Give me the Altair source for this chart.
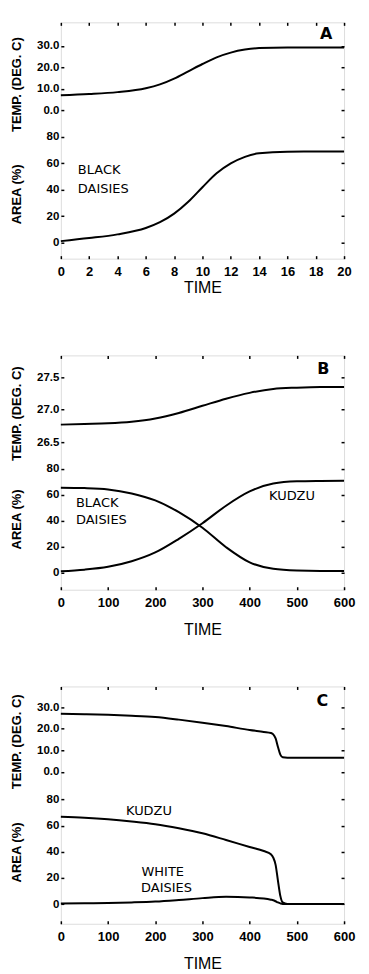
import altair as alt
import pandas as pd

FONT = "DejaVu Sans"

# ---------------- Panel A ----------------
A_time = [0, 2, 4, 6, 7, 8, 9, 10, 11, 12, 13, 14, 16, 18, 20]
A_temp = [7.0, 7.6, 8.5, 10.3, 12.1, 14.8, 18.2, 21.6, 24.7, 26.9, 28.3, 29.0, 29.3, 29.3, 29.3]
A_black = [1.2, 3.5, 6.3, 11.1, 15.5, 22.0, 31.0, 42.0, 52.5, 60.0, 65.0, 67.7, 68.9, 69.0, 69.0]
A_xticks = [0, 2, 4, 6, 8, 10, 12, 14, 16, 18, 20]
A_tticks = [0, 10, 20, 30]
A_labels = [("BLACK", 1.2, 54.7), ("DAISIES", 1.2, 40.9)]
A_letter = ("A", 18.73, 35.6)

# ---------------- Panel B ----------------
B_time = [0, 50, 100, 150, 200, 250, 300, 350, 400, 450, 500, 550, 600]
B_temp = [26.77, 26.78, 26.79, 26.815, 26.865, 26.95, 27.06, 27.17, 27.26, 27.32, 27.34, 27.35, 27.35]
B_black = [65.4, 65.1, 64.1, 61.0, 55.6, 46.5, 34.5, 19.5, 7.8, 2.8, 1.5, 1.2, 1.2]
B_kudzu = [1.0, 2.2, 4.4, 8.7, 15.5, 26.0, 38.0, 51.5, 62.5, 68.6, 70.3, 70.6, 70.7]
B_xticks = [0, 100, 200, 300, 400, 500, 600]
B_tticks = [26.5, 27.0, 27.5]
B_labels = [("BLACK", 32, 53.3), ("DAISIES", 32, 40.8), ("KUDZU", 441, 58.7)]
B_letter = ("B", 556, 27.63)

# ---------------- Panel C ----------------
C_time = [0, 50, 100, 150, 200, 250, 300, 350, 400, 430, 445, 450, 455, 460, 465, 470, 480, 600]
C_temp = [26.9, 26.7, 26.4, 26.0, 25.4, 24.2, 22.8, 21.2, 19.4, 18.5, 18.0, 17.4, 15.5, 11.5, 8.0, 6.8, 6.6, 6.6]
C_kudzu = [66.8, 66.0, 64.8, 63.1, 61.0, 57.9, 54.1, 49.0, 43.7, 40.6, 38.1, 35.6, 30.0, 17.8, 6.3, 1.3, 0.2, 0.2]
C_white = [0.5, 0.6, 0.8, 1.3, 2.0, 3.2, 4.6, 5.6, 5.1, 4.3, 3.4, 3.0, 2.2, 1.3, 0.6, 0.2, 0.2, 0.2]
C_xticks = [0, 100, 200, 300, 400, 500, 600]
C_tticks = [0, 10, 20, 30]
C_labels = [("KUDZU", 138, 71.2), ("WHITE", 171, 24.5), ("DAISIES", 170, 12.4)]
C_letter = ("C", 554, 32.8)

AREA_TICKS = [0, 20, 40, 60, 80]
W = 284


def panel(time, temp, areas, labels, letter, xmax, xticks, tdom, tticks, tfmt,
          adom, H, temp_title_y, area_title_y, title_pad):
    temp_df = pd.DataFrame({"t": time, "v": temp})
    rows = []
    for name, vals in areas.items():
        for t, v in zip(time, vals):
            rows.append({"t": t, "v": v, "s": name})
    area_df = pd.DataFrame(rows)
    lab_df = pd.DataFrame(labels, columns=["text", "t", "v"])
    let_df = pd.DataFrame([letter], columns=["text", "t", "v"])

    xs = alt.Scale(domain=[0, xmax], nice=False, zero=False)
    ts = alt.Scale(domain=tdom, nice=False, zero=False)
    ars = alt.Scale(domain=adom, nice=False, zero=False)

    common = dict(grid=False, domain=False, ticks=True, tickSize=3, tickWidth=1.5,
                  tickColor="black", offset=-3, labelFlush=False, labelOverlap=False)

    temp_line = alt.Chart(temp_df).mark_line(
        color="black", strokeWidth=2, interpolate="monotone"
    ).encode(
        x=alt.X("t:Q", scale=xs, axis=alt.Axis(
            orient="bottom", values=xticks, title="TIME", labelPadding=7,
            labelFontSize=13, labelFontWeight="bold", titleFontSize=16,
            titlePadding=title_pad, titleFontWeight="normal", **common)),
        y=alt.Y("v:Q", scale=ts, axis=alt.Axis(
            orient="left", values=tticks, format=tfmt, title="TEMP. (DEG. C)",
            labelPadding=2, labelFontSize=11.5, labelFontWeight="bold", titleFontSize=13,
            titleAngle=270, titleAlign="center", titleBaseline="middle",
            titleX=-47, titleY=temp_title_y, **common)),
    )

    area_lines = alt.Chart(area_df).mark_line(
        color="black", strokeWidth=2, interpolate="monotone"
    ).encode(
        x=alt.X("t:Q", scale=xs, axis=alt.Axis(
            orient="top", values=xticks, labels=False, title=None, **common)),
        y=alt.Y("v:Q", scale=ars, axis=alt.Axis(
            orient="left", values=AREA_TICKS, format="d", title="AREA (%)",
            labelPadding=2, labelFontSize=11.5, labelFontWeight="bold", titleFontSize=13,
            titleAngle=270, titleAlign="center", titleBaseline="middle",
            titleX=-47, titleY=area_title_y, **common)),
        detail="s:N",
    )

    text_layer = alt.Chart(lab_df).mark_text(
        align="left", baseline="middle", font=FONT, fontSize=13, color="black"
    ).encode(
        x=alt.X("t:Q", scale=xs, axis=None),
        y=alt.Y("v:Q", scale=ars, axis=alt.Axis(
            orient="right", values=AREA_TICKS, labels=False, title=None, **common)),
        text="text:N",
    )

    letter_layer = alt.Chart(let_df).mark_text(
        align="center", baseline="middle", font=FONT, fontSize=16, fontWeight="bold",
        color="black"
    ).encode(
        x=alt.X("t:Q", scale=xs, axis=None),
        y=alt.Y("v:Q", scale=ts, axis=alt.Axis(
            orient="right", values=tticks, labels=False, title=None, **common)),
        text="text:N",
    )

    return alt.layer(temp_line, area_lines, text_layer, letter_layer).resolve_scale(
        y="independent"
    ).resolve_axis(x="independent", y="independent").properties(width=W, height=H)


pA = panel(A_time, A_temp, {"black": A_black}, A_labels, A_letter, 20, A_xticks,
           [-69.06, 41.0], A_tticks, ".1f", [-12.08, 166.79], 237, 62, 172, 1)
pB = panel(B_time, B_temp, {"black": B_black, "kudzu": B_kudzu}, B_labels, B_letter,
           600, B_xticks, [24.223, 27.838], B_tticks, ".1f", [-13.3, 167.46], 235, 58, 164, 12)
pC = panel(C_time, C_temp, {"kudzu": C_kudzu, "white": C_white}, C_labels, C_letter,
           600, C_xticks, [-70.29, 39.55], C_tticks, ".1f", [-15.0, 166.3], 238, 55, 166, 12)

chart = alt.vconcat(pA, pB, pC, spacing=97, bounds="flush").properties(
    padding={"left": 2, "top": 11, "right": 5, "bottom": 5}
).configure_view(
    stroke="black", strokeWidth=2
).configure_axis(
    labelFont=FONT, titleFont=FONT, labelColor="black", titleColor="black"
).configure(background="white")

chart.save("out.html", embed_options={"renderer": "svg", "actions": False})
